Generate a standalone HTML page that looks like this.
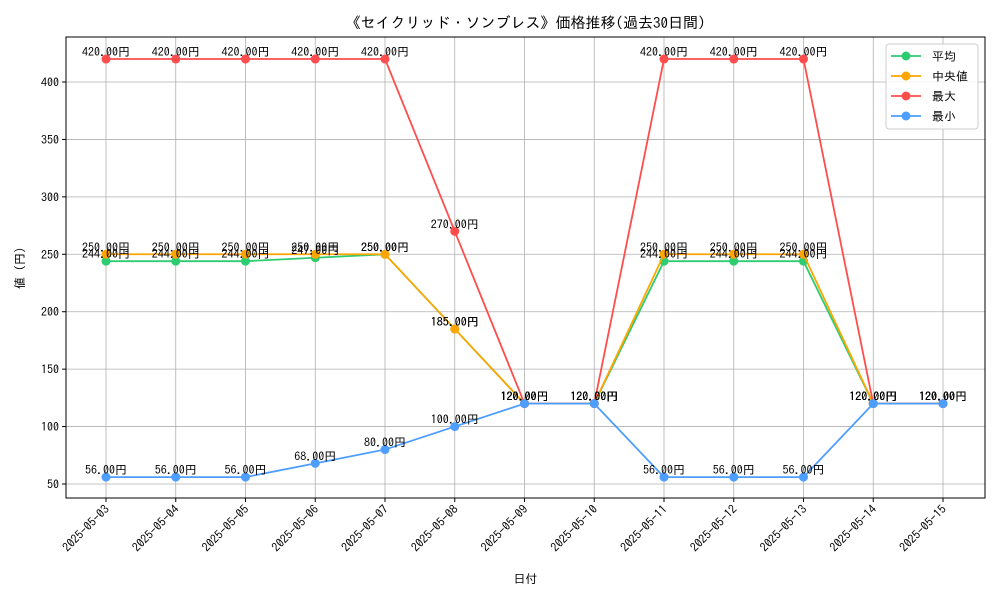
<!DOCTYPE html>
<html><head><meta charset="utf-8"><style>
body{margin:0;background:#fff}
svg{font-family:"IPAGothic","Noto Sans CJK JP",sans-serif}
</style></head><body>
<svg id="c" width="1000" height="600" viewBox="0 0 1000 600"></svg>
<script>
const categories=["2025-05-03","2025-05-04","2025-05-05","2025-05-06","2025-05-07","2025-05-08","2025-05-09","2025-05-10","2025-05-11","2025-05-12","2025-05-13","2025-05-14","2025-05-15"];
const avgValues=[244,244,244,247,250,185,120,120,244,244,244,120,120];
const medianValues=[250,250,250,250,250,185,120,120,250,250,250,120,120];
const maxValues=[420,420,420,420,420,270,120,120,420,420,420,120,120];
const minValues=[56,56,56,68,80,100,120,120,56,56,56,120,120];
const yTicks=[50,100,150,200,250,300,350,400];
const NS="http://www.w3.org/2000/svg";
const svg=document.getElementById('c');
const L=66,R=985,T=37,B=498;
const x=i=>106+i*(943-106)/(categories.length-1);
const y=v=>484-(v-50)*(484-82)/350;
function el(tag,attrs,parent){const e=document.createElementNS(NS,tag);for(const k in attrs)e.setAttribute(k,attrs[k]);(parent||svg).appendChild(e);return e;}
const grid=el('g',{});


categories.forEach((c,i)=>{
  el('line',{x1:x(i),x2:x(i),y1:T,y2:B,stroke:'#b0b0b0','stroke-width':0.8},grid);
  el('line',{x1:x(i),x2:x(i),y1:B,y2:B+4,stroke:'#000'},grid);
  const t=el('text',{x:x(i)+4,y:B+12,'font-size':12,'text-anchor':'end',transform:`rotate(-45 ${x(i)+4} ${B+12})`});
  t.textContent=c;
  
  
});
yTicks.forEach(v=>{
  el('line',{x1:L,x2:R,y1:y(v),y2:y(v),stroke:'#b0b0b0','stroke-width':0.8},grid);
  el('line',{x1:L-4,x2:L,y1:y(v),y2:y(v),stroke:'#000'},grid);
  const t=el('text',{x:L-7,y:y(v)+4.5,'font-size':12,'text-anchor':'end'});
  t.textContent=v;
  
  
});
const series=[
 {name:'平均',vals:avgValues,color:'#2ecc71',key:'avg'},
 {name:'中央値',vals:medianValues,color:'#ffa500',key:'median'},
 {name:'最大',vals:maxValues,color:'#ff4d4d',key:'max'},
 {name:'最小',vals:minValues,color:'#4d9eff',key:'min'}];
series.forEach(s=>{
  const g=el('g',{});
  
  
  el('polyline',{points:s.vals.map((v,i)=>x(i)+','+y(v)).join(' '),fill:'none',stroke:s.color,'stroke-width':1.8},g);
  s.vals.forEach((v,i)=>{
    const p=el('circle',{cx:x(i),cy:y(v),r:4.5,fill:s.color},g);
    
    
  });
});
series.forEach(s=>{
  s.vals.forEach((v,i)=>{
    const t=el('text',{x:x(i),y:y(v)-3,'font-size':12,'text-anchor':'middle',fill:'#000'});
    t.textContent=v.toFixed(2)+'円';
    
    
  });
});
const fr=el('rect',{x:L,y:T,width:R-L,height:B-T,fill:'none',stroke:'#000','stroke-width':1});


const title=el('text',{x:(L+R)/2,y:28,'font-size':15,'text-anchor':'middle'});
title.textContent='《セイクリッド・ソンブレス》価格推移(過去30日間)';


const xt=el('text',{x:(L+R)/2,y:583,'font-size':12,'text-anchor':'middle'});
xt.textContent='日付';


const yt=el('text',{x:24,y:268,'font-size':12,'text-anchor':'middle',transform:'rotate(-90 24 268)'});
yt.textContent='値 (円)';


const lg=el('g',{});


el('rect',{x:886,y:44,width:92,height:85,rx:3,fill:'#fff','fill-opacity':0.85,stroke:'#ccc'},lg);
series.forEach((s,k)=>{
  const yy=56+k*20;
  const e=el('g',{},lg);
  
  
  el('line',{x1:891,x2:921,y1:yy,y2:yy,stroke:s.color,'stroke-width':1.8},e);
  el('circle',{cx:906,cy:yy,r:4.5,fill:s.color},e);
  const t=el('text',{x:932,y:yy+4.5,'font-size':12},e);
  t.textContent=s.name;
});
</script>
</body></html>
